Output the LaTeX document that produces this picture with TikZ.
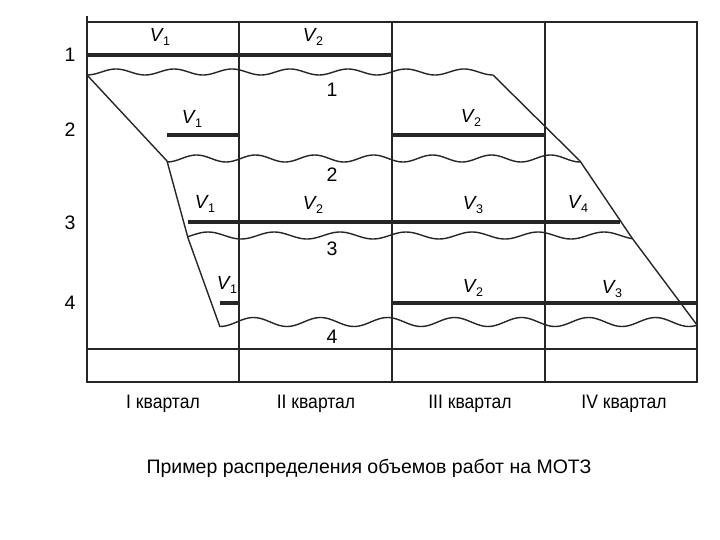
\documentclass[tikz,border=0pt]{standalone}
\usepackage{fontspec}
\setmainfont{Liberation Sans}
\newfontfamily\narrowfont[FakeStretch=0.9]{Liberation Sans}
\newcommand{\Vsub}[1]{V\kern0.5pt\raisebox{-0.45ex}{\upshape\fontsize{12.5}{12.5}\selectfont #1}}
\begin{document}
\begin{tikzpicture}[x=1pt,y=-1pt,
  frame/.style={line width=1.6pt, draw=black!85},
  bar/.style={line width=3.2pt, draw=black!85},
  wave/.style={line width=1.4pt, draw=black!85},
  edge/.style={line width=1.4pt, draw=black!85},
  vlab/.style={font=\fontsize{19}{19}\selectfont\itshape, inner sep=0pt},
  rlab/.style={font=\fontsize{19.5}{19.5}\selectfont, inner sep=0pt},
  qlab/.style={font=\narrowfont\fontsize{19.5}{19.5}\selectfont, inner sep=0pt}]
\useasboundingbox (0,0) rectangle (720,540);
\fill[white] (0,0) rectangle (720,540);
% frame and quarter dividers
\draw[frame] (87,22) rectangle (697,382);
\draw[frame] (87,16) -- (87,22);
\draw[frame] (239,22) -- (239,382);
\draw[frame] (392,22) -- (392,382);
\draw[frame] (545,22) -- (545,382);
\draw[frame] (87,349) -- (697,349);
% outline vertices
\coordinate (L1) at (87,75);
\coordinate (L2) at (167,161);
\coordinate (L3) at (188,238);
\coordinate (L4) at (220,327);
\coordinate (R1) at (493,75);
\coordinate (R2) at (580,161);
\coordinate (R3) at (632,238);
\coordinate (R4) at (697,325);
\draw[edge] (L1) -- (L2) -- (L3) -- (L4);
\draw[edge] (R1) -- (R2) -- (R3) -- (R4);
% wavy lines
\draw[wave] plot[domain=87:493, samples=160, smooth] (\x, {72+3*cos(6.2069*(\x-87))});
\draw[wave] plot[domain=167:580, samples=160, smooth] (\x, {158.5+3.5*cos(6.1017*(\x-167))});
\draw[wave] plot[domain=188:632, samples=160, smooth] (\x, {235.5+3.5*cos(5.4545*(\x-175))});
\draw[wave] plot[domain=220:697, samples=160, smooth] (\x, {322+4.5*cos(5.3731*(\x-220))});
% thick bars
\draw[bar] (87,55) -- (392,55);
\draw[bar] (167,135) -- (239,135);
\draw[bar] (392,135) -- (545,135);
\draw[bar] (188,222) -- (620,222);
\draw[bar] (220,303) -- (239,303);
\draw[bar] (392,303) -- (697,303);
% V labels
\node[vlab] (a1) at (160,37) {\Vsub{1}};
\node[vlab] (a2) at (313,37) {\Vsub{2}};
\node[vlab] (b1) at (192,119) {\Vsub{1}};
\node[vlab] (b2) at (471,118) {\Vsub{2}};
\node[vlab] (c1) at (205,204) {\Vsub{1}};
\node[vlab] (c2) at (313,205) {\Vsub{2}};
\node[vlab] (c3) at (473,205) {\Vsub{3}};
\node[vlab] (c4) at (578,204) {\Vsub{4}};
\node[vlab] (d1) at (227,285) {\Vsub{1}};
\node[vlab] (d2) at (473,288) {\Vsub{2}};
\node[vlab] (d3) at (612,289) {\Vsub{3}};
% row labels
\node[rlab] (r1) at (70,55) {1};
\node[rlab] (r2) at (70,130) {2};
\node[rlab] (r3) at (70,223) {3};
\node[rlab] (r4) at (70,303) {4};
% wave numbers
\node[rlab] (w1) at (332,90) {1};
\node[rlab] (w2) at (332,175) {2};
\node[rlab] (w3) at (332,249) {3};
\node[rlab] (w4) at (332,337) {4};
% quarter labels
\node[qlab] (q1) at (163,404) {I квартал};
\node[qlab] (q2) at (316,404) {II квартал};
\node[qlab] (q3) at (470,404) {III квартал};
\node[qlab] (q4) at (624,404) {IV квартал};
% caption
\node[font=\fontsize{19.5}{19.5}\selectfont, inner sep=0pt] (cap) at (369,468) {Пример распределения объемов работ на МОТЗ};
\end{tikzpicture}
\end{document}
